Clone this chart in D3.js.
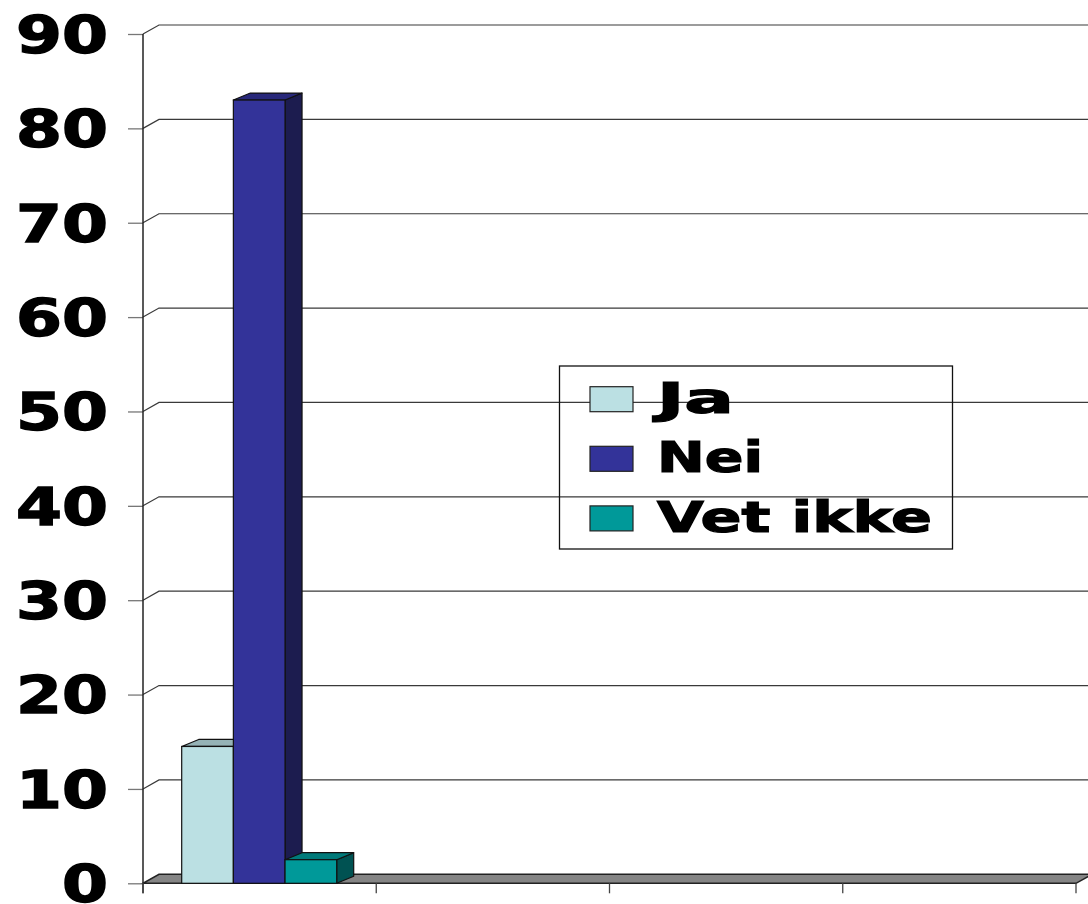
<!DOCTYPE html>
<html>
<head>
<meta charset="utf-8">
<script src="https://cdn.jsdelivr.net/npm/d3@7"></script>
<style>
  body { margin: 0; background: #fff; }
  svg { display: block; }
</style>
</head>
<body>
<div id="chart-area"></div>
<script>
// data
var categories = ["1", "2", "3", "4"];
var series = ["Ja", "Nei", "Vet ikke"];
var jaValues = [14.5, null, null, null];
var neiValues = [83, null, null, null];
var vetIkkeValues = [2.5, null, null, null];
var yTicks = [0, 10, 20, 30, 40, 50, 60, 70, 80, 90];

var seriesValues = [jaValues, neiValues, vetIkkeValues];
var frontColors = ["#BBE0E3", "#333399", "#009999"];
var topColors = ["#95B3B6", "#28287A", "#007A7A"];
var sideColors = ["#8FA9AB", "#1C1C4F", "#005252"];

var width = 1088;
var height = 904;

// wall depth and bar depth offsets
var wdx = 16, wdy = -9;
var bdx = 17, bdy = -7;

var svg = d3.select("#chart-area")
    .append("svg")
    .attr("width", width)
    .attr("height", height);

var y = d3.scaleLinear()
    .domain([0, 90])
    .range([883.3, 34]);

var x0 = d3.scaleBand()
    .domain(categories)
    .range([143, 1076])
    .padding(0);

var x1 = d3.scaleBand()
    .domain(series)
    .range([38.7, 38.7 + 155])
    .padding(0);

function pts(arr) {
    return arr.map(function(p) { return p.join(","); }).join(" ");
}

// gridlines (back wall)
var grid = svg.append("g").attr("class", "grid");
yTicks.forEach(function(v) {
    if (v === 0) return;
    grid.append("polyline")
        .attr("points", pts([[143, y(v)], [143 + wdx, y(v) + wdy], [width + 5, y(v) + wdy]]))
        .attr("fill", "none")
        .attr("stroke", "#3a3a3a")
        .attr("stroke-width", 1.2);
});

// floor
svg.append("polygon")
    .attr("points", pts([[143, y(0)], [1076, y(0)], [1076 + wdx, y(0) + wdy], [143 + wdx, y(0) + wdy]]))
    .attr("fill", "#858585")
    .attr("stroke", "#222")
    .attr("stroke-width", 1.5);

// y axis
var yAxisCall = d3.axisLeft(y)
    .tickValues(yTicks)
    .tickSize(15)
    .tickPadding(20)
    .tickSizeOuter(0);

var yAxisGroup = svg.append("g")
    .attr("class", "y-axis")
    .attr("transform", "translate(143,0)")
    .call(yAxisCall);

yAxisGroup.select(".domain").remove();
yAxisGroup.selectAll(".tick line")
    .attr("stroke", "#777")
    .attr("stroke-width", 1.3);
yAxisGroup.selectAll(".tick text")
    .attr("font-family", "DejaVu Sans, Liberation Sans, sans-serif")
    .attr("font-weight", "bold")
    .attr("font-size", "51px")
    .attr("fill", "#000")
    .attr("stroke", "#000")
    .attr("stroke-width", 1.4)
    .attr("dy", "0.36em")
    .attr("textLength", function(d) { return String(d).length * 46; })
    .attr("lengthAdjust", "spacingAndGlyphs");

// front axis line
svg.append("line")
    .attr("x1", 143).attr("x2", 143)
    .attr("y1", y(90)).attr("y2", y(0) + 10)
    .attr("stroke", "#222")
    .attr("stroke-width", 1.5);

// category boundary ticks
var boundaries = categories.map(function(c) { return x0(c); }).concat([x0.range()[1]]);
svg.selectAll(".xtick")
    .data(boundaries)
    .enter()
    .append("line")
    .attr("class", "xtick")
    .attr("x1", function(d) { return d; })
    .attr("x2", function(d) { return d; })
    .attr("y1", y(0))
    .attr("y2", y(0) + 10)
    .attr("stroke", "#444")
    .attr("stroke-width", 1.3);

// bars
var bars = svg.append("g").attr("class", "bars");
categories.forEach(function(c, ci) {
    series.forEach(function(s, si) {
        var v = seriesValues[si][ci];
        if (v === null || v === undefined) return;
        var xl = x0(c) + x1(s);
        var xr = xl + x1.bandwidth();
        var yt = y(v);
        var yb = y(0);
        var g = bars.append("g");
        // side
        g.append("polygon")
            .attr("points", pts([[xr, yb], [xr + bdx, yb + bdy], [xr + bdx, yt + bdy], [xr, yt]]))
            .attr("fill", sideColors[si])
            .attr("stroke", "#111")
            .attr("stroke-width", 1.2)
            .attr("stroke-linejoin", "round");
        // top
        g.append("polygon")
            .attr("points", pts([[xl, yt], [xr, yt], [xr + bdx, yt + bdy], [xl + bdx, yt + bdy]]))
            .attr("fill", topColors[si])
            .attr("stroke", "#111")
            .attr("stroke-width", 1.2)
            .attr("stroke-linejoin", "round");
        // front
        g.append("rect")
            .attr("x", xl)
            .attr("y", yt)
            .attr("width", xr - xl)
            .attr("height", yb - yt)
            .attr("fill", frontColors[si])
            .attr("stroke", "#111")
            .attr("stroke-width", 1.2);
    });
});

// legend
var legend = svg.append("g").attr("class", "legend");
legend.append("rect")
    .attr("x", 559.5)
    .attr("y", 366)
    .attr("width", 393)
    .attr("height", 183)
    .attr("fill", "none")
    .attr("stroke", "#111")
    .attr("stroke-width", 1.3);

var legendWidths = [77, 106, 275];
series.forEach(function(s, i) {
    var ly = 386.7 + i * 59.6;
    legend.append("rect")
        .attr("x", 590)
        .attr("y", ly)
        .attr("width", 43)
        .attr("height", 25)
        .attr("fill", frontColors[i])
        .attr("stroke", "#222")
        .attr("stroke-width", 1.2);
    legend.append("text")
        .attr("x", 657)
        .attr("y", ly + 26)
        .attr("font-family", "DejaVu Sans, Liberation Sans, sans-serif")
        .attr("font-weight", "bold")
        .attr("font-size", "42px")
        .attr("fill", "#000")
        .attr("stroke", "#000")
        .attr("stroke-width", 1.2)
        .attr("textLength", legendWidths[i])
        .attr("lengthAdjust", "spacingAndGlyphs")
        .text(s);
});
</script>
</body>
</html>
